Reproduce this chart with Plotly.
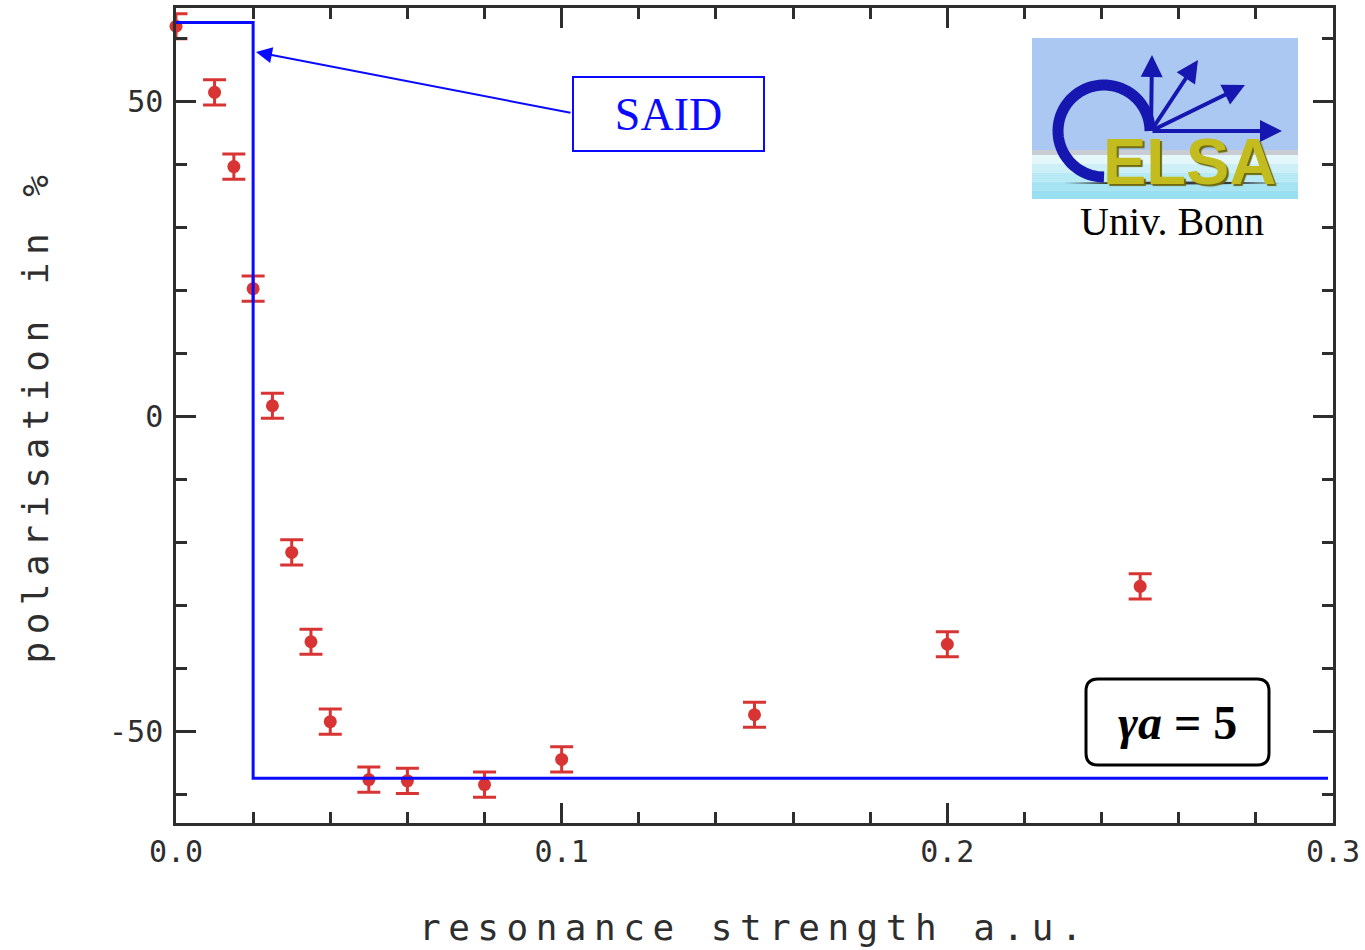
import numpy as np
import plotly.graph_objects as go

# Measured polarisation vs. resonance strength (gamma*a = 5)
strength = [0.0, 0.01, 0.015, 0.02, 0.025, 0.03, 0.035, 0.04, 0.05, 0.06, 0.08, 0.10, 0.15, 0.20, 0.25]
polarisation = [62.0, 51.5, 39.7, 20.3, 1.7, -21.6, -35.8, -48.5, -57.7, -57.9, -58.5, -54.5, -47.4, -36.2, -27.0]
polarisation_err = [2.0] * len(strength)

# SAID prediction (step)
said_x = [0.0, 0.02, 0.2987]
said_y = [62.6, -57.5, -57.5]

x_tick_vals = [0.0, 0.1, 0.2, 0.3]
x_tick_text = ["0.0", "0.1", "0.2", "0.3"]
y_tick_vals = [-50, 0, 50]
y_tick_text = ["-50", "0", "50"]

X_RANGE = [0.0, 0.3]
Y_RANGE = [-64.6, 64.9]

# page geometry (pixels) used for the decorations around the plot
W, H = 1365, 950
L, R, T, B = 176, 1333, 8, 823


def px(x):
    return (x - L) / (R - L)


def py(y):
    return (B - y) / (B - T)


AX_COLOR = "#2e2e2e"
RED = "#d83434"
BLUE = "#0a0aff"
LOGO_BLUE = "#1616b0"
MONO = "DejaVu Sans Mono"
SERIF = "Liberation Serif"

fig = go.Figure()

fig.add_trace(go.Scatter(
    x=strength, y=polarisation,
    mode="markers",
    marker=dict(color=RED, size=13),
    error_y=dict(type="data", array=polarisation_err, color=RED, thickness=3, width=11.5),
    cliponaxis=False,
    showlegend=False,
))

fig.add_trace(go.Scatter(
    x=said_x, y=said_y,
    mode="lines",
    line=dict(color=BLUE, width=3, shape="hv"),
    showlegend=False,
))

axis_common = dict(
    showline=True, linecolor=AX_COLOR, linewidth=2.5,
    mirror="ticks", ticks="inside", ticklen=20, tickwidth=2.5, tickcolor=AX_COLOR,
    showgrid=False, zeroline=False, automargin=False,
    tickfont=dict(family=MONO, size=30, color=AX_COLOR),
)

fig.update_xaxes(
    range=X_RANGE, tickmode="array", tickvals=x_tick_vals, ticktext=x_tick_text,
    minor=dict(dtick=0.02, tick0=0, ticklen=11, tickwidth=2.5, tickcolor=AX_COLOR, ticks="inside"),
    ticklabelstandoff=0,
    title=dict(text="resonance strength a.u.", font=dict(family=MONO, size=36, color=AX_COLOR), standoff=48),
    **axis_common,
)
fig.update_yaxes(
    range=Y_RANGE, tickmode="array", tickvals=y_tick_vals, ticktext=y_tick_text,
    minor=dict(dtick=10, tick0=0, ticklen=11, tickwidth=2.5, tickcolor=AX_COLOR, ticks="inside"),
    ticklabelstandoff=4,
    title=dict(text="polarisation in %", font=dict(family=MONO, size=36, color=AX_COLOR), standoff=50),
    **axis_common,
)

shapes = []
annotations = []


def label(x, y, text, **kw):
    d = dict(x=px(x), y=py(y), xref="paper", yref="paper", text=text,
             showarrow=False, xanchor="center", yanchor="middle")
    d.update(kw)
    return d


def arrow(hx, hy, tx, ty, **kw):
    d = dict(x=px(hx), y=py(hy), xref="paper", yref="paper",
             ax=tx - hx, ay=ty - hy, axref="pixel", ayref="pixel",
             text="", showarrow=True, xanchor="center", yanchor="middle")
    d.update(kw)
    return d


# ---- ELSA logo ----
def rect(x0, y0, x1, y1, color):
    return dict(type="rect", xref="paper", yref="paper",
                x0=px(x0), x1=px(x1), y0=py(y1), y1=py(y0),
                fillcolor=color, line=dict(width=0), layer="above")


shapes.append(rect(1032, 38, 1298, 152, "#aac8f2"))
shapes.append(rect(1032, 150, 1298, 155, "#c9ccd2"))
water = ["#e4f7fb", "#cdf0f8", "#b8eaf6", "#a6e4f4", "#98dff2"]
band_edges = np.linspace(155, 199, len(water) + 1)
for c, y0, y1 in zip(water, band_edges[:-1], band_edges[1:]):
    shapes.append(rect(1032, y0, 1298, y1, c))

# shadow below the lettering
shapes.append(dict(type="path", xref="paper", yref="paper",
                   path="M {} {} Q {} {} {} {} Q {} {} {} {} Z".format(
                       px(1064), py(183), px(1170), py(180), px(1280), py(183),
                       px(1170), py(186), px(1064), py(183)),
                   fillcolor="#3a3a3a", line=dict(width=0), layer="above"))

# the "C": a 270 degree arc
cx, cy, rx, ry = 1104, 131, 46, 46
t = np.linspace(np.pi / 2, 2 * np.pi, 60)
arc = " ".join(("M" if i == 0 else "L") + " {:.5f} {:.5f}".format(px(cx + rx * np.cos(a)), py(cy + ry * np.sin(a)))
               for i, a in enumerate(t))
shapes.append(dict(type="path", xref="paper", yref="paper", path=arc,
                   line=dict(color=LOGO_BLUE, width=11), layer="above"))

# spin arrows from the end of the arc
origin = (1151, 131)
heads = [(1152, 55), (1198, 60), (1245, 85), (1282, 131)]
for hx, hy in heads:
    annotations.append(arrow(hx, hy, origin[0], origin[1], arrowhead=2, arrowsize=1.1,
                             arrowwidth=4, arrowcolor=LOGO_BLUE))

annotations.append(label(1189, 161, "<b>ELSA</b>",
                         font=dict(family="Liberation Sans", size=65, color="#c2bc1e",
                                   shadow="2px 2px 1px #6f6a10")))
annotations.append(label(1172, 221, "Univ. Bonn", font=dict(family=SERIF, size=40, color="black")))

# ---- SAID label with arrow ----
annotations.append(label(668.5, 114, "SAID", width=189, height=72,
                         bordercolor=BLUE, borderwidth=2, borderpad=0, bgcolor="white",
                         font=dict(family=SERIF, size=46, color=BLUE)))
annotations.append(arrow(256, 52, 572, 113, arrowhead=2, arrowsize=1.6, arrowwidth=2,
                         arrowcolor=BLUE))

# ---- gamma*a box ----
x0, y0, x1, y1, r = 1086, 679, 1269, 765, 12
box = ("M {a} {b} L {c} {b} Q {d} {b} {d} {e} L {d} {f} Q {d} {g} {c} {g} "
       "L {a} {g} Q {h} {g} {h} {f} L {h} {e} Q {h} {b} {a} {b} Z").format(
    a=px(x0 + r), b=py(y0), c=px(x1 - r), d=px(x1), e=py(y0 + r),
    f=py(y1 - r), g=py(y1), h=px(x0))
shapes.append(dict(type="path", xref="paper", yref="paper", path=box,
                   line=dict(color="black", width=3), fillcolor="white", layer="above"))
annotations.append(label(1177, 722, "<b><i>γa</i> = 5</b>",
                         font=dict(family=SERIF, size=48, color="black")))

fig.update_layout(
    width=W, height=H,
    margin=dict(l=L, r=W - R, t=T, b=H - B),
    paper_bgcolor="white", plot_bgcolor="white",
    shapes=shapes, annotations=annotations,
)

fig.write_html(
    "out.html",
    post_script="document.querySelectorAll('.xtitle, .ytitle').forEach(function(t){t.style.letterSpacing='7.5px';});",
)
